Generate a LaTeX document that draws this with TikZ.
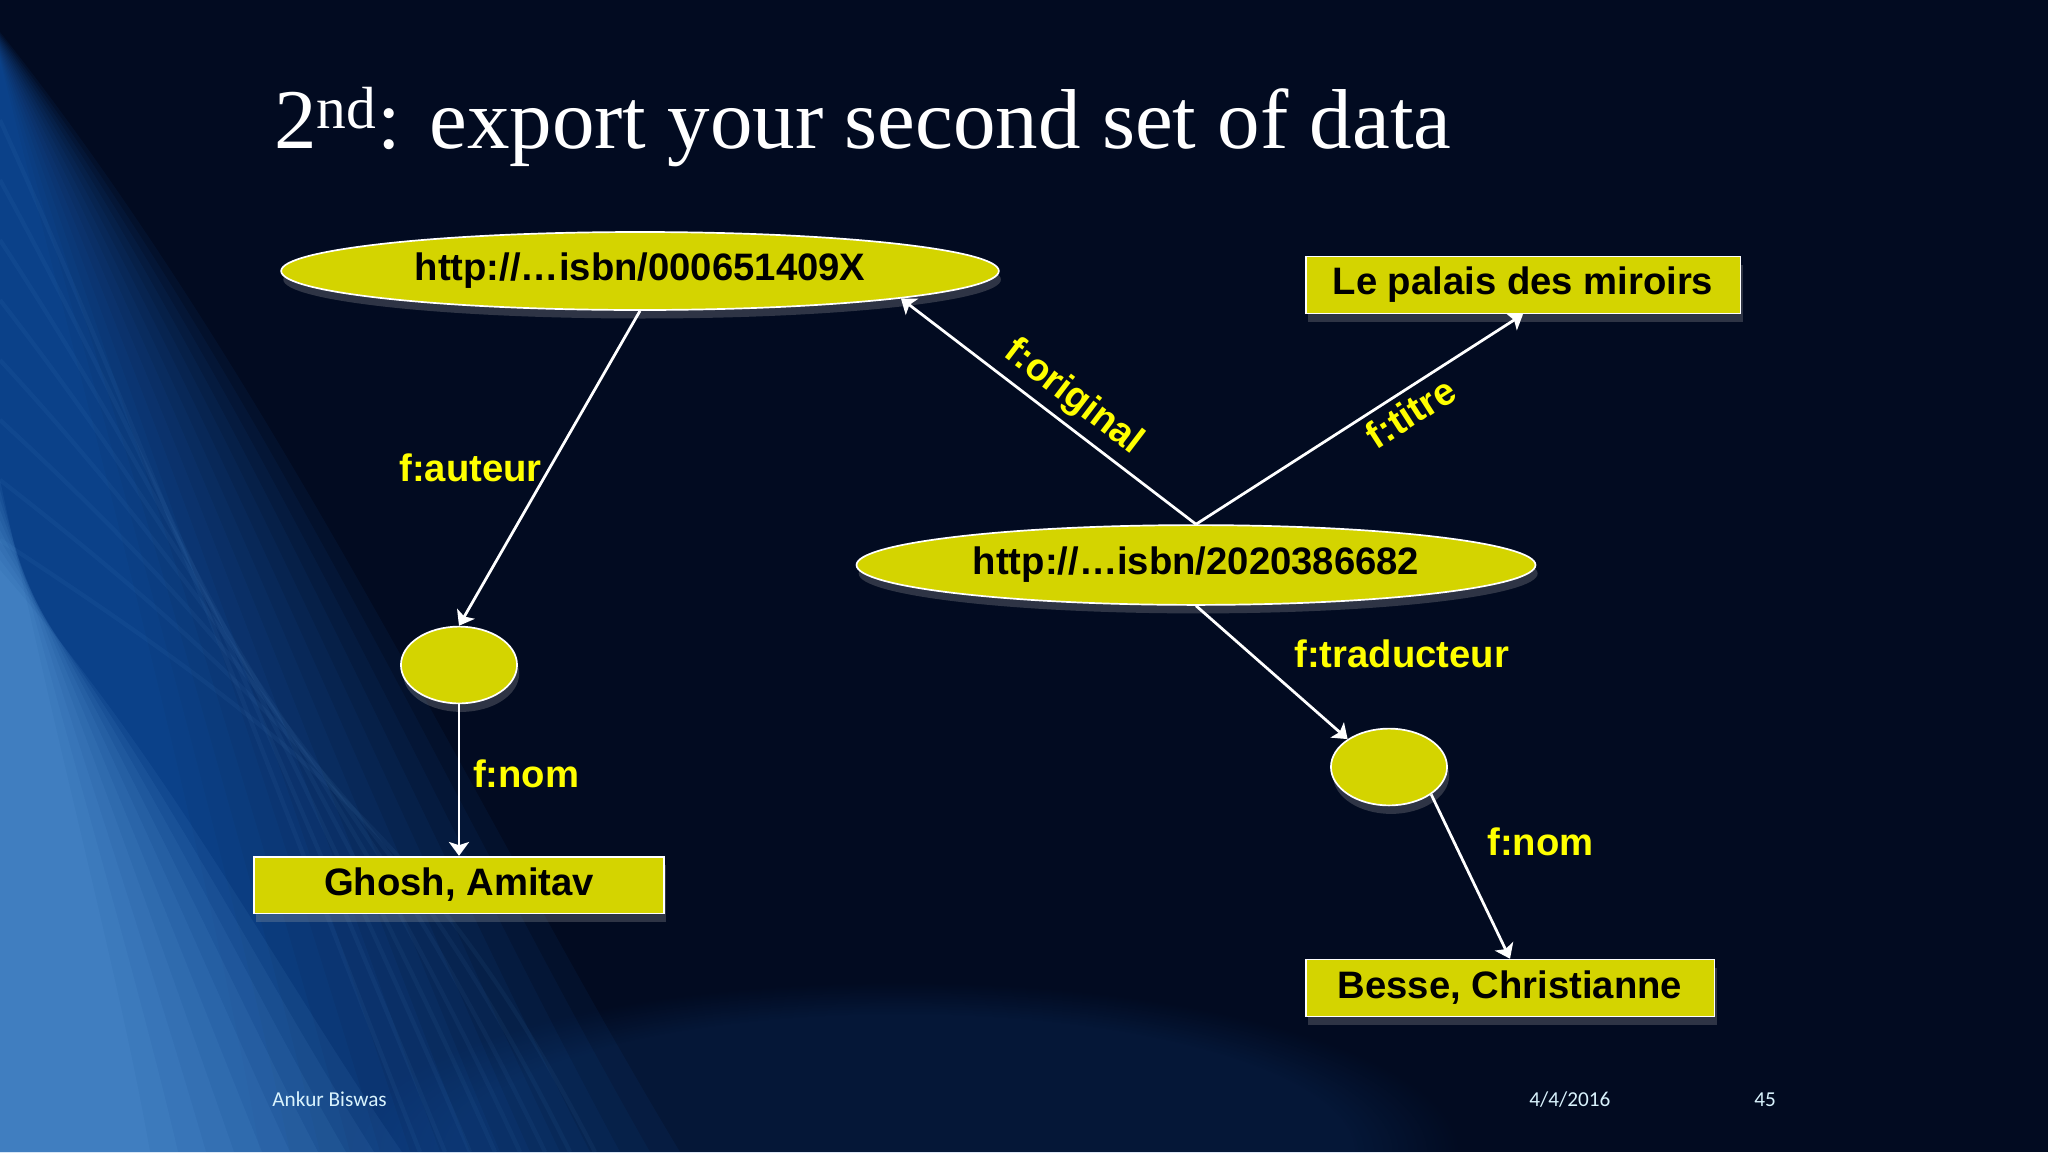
\documentclass[tikz,border=0pt]{standalone}
\usepackage{xcolor}
\usepackage{fontspec}
\setmainfont{Liberation Serif}
\setsansfont{Liberation Sans}
\newfontfamily\footfont{Carlito}
\usepackage{tikz}
\usetikzlibrary{shapes,arrows.meta,positioning,calc,shadows,fadings}

\definecolor{slidebg}{RGB}{2,11,33}
\definecolor{nodeyellow}{RGB}{212,212,0}
\definecolor{lblyellow}{RGB}{255,255,0}
\definecolor{streakblue}{RGB}{25,100,195}
\definecolor{glowblue}{RGB}{120,190,250}

\begin{document}
\begin{tikzpicture}[x=0.016536cm, y=0.016536cm,
  every node/.style={font=\sffamily\bfseries\fontsize{18}{22}\selectfont},
  shade/.style={drop shadow={fill=gray!60, opacity=0.25, shadow xshift=1pt, shadow yshift=-4pt}},
  uri/.style={ellipse, draw=white, line width=0.8pt, fill=nodeyellow, inner sep=0pt, shade},
  blank/.style={ellipse, draw=white, line width=0.8pt, fill=nodeyellow, minimum width=1.92cm, minimum height=1.27cm, shade},
  lit/.style={rectangle, draw=white, line width=0.8pt, fill=nodeyellow, minimum height=0.94cm, inner sep=0pt, shade},
  lbl/.style={text=lblyellow, inner sep=0pt},
  link/.style={draw=white, line width=1.3pt, -{Stealth[length=6.5pt, width=9.5pt, inset=1.5pt]}},
  foot/.style={font=\footfont\fontsize{10}{12}\selectfont, text=white!85!cyan, anchor=base west, inner sep=0pt}]
\useasboundingbox (0,0) rectangle (2048,-1152);
% background
\fill[slidebg] (0,0) rectangle (2048,-1152);
\foreach \k in {0,...,14}
  \fill[streakblue, opacity=0.07] (0,-60+\k*2) .. controls (80+\k*14,-380) and (200+\k*20,-820) .. (260+\k*30,-1152) -- (0,-1152) -- cycle;
\foreach \k in {0,...,9}
  \fill[glowblue, opacity=0.07] (0,-480-\k*10) .. controls (60+\k*12,-760) and (120+\k*18,-980) .. (150+\k*28,-1152) -- (0,-1152) -- cycle;
\foreach \k in {0,...,7}
  \draw[glowblue, opacity=0.05, line width=2pt] (0,-120-\k*60) .. controls (150+\k*20,-450-\k*40) and (300+\k*20,-850) .. (420+\k*25,-1152);
\fill[streakblue, opacity=0.14, path fading=circle with fuzzy edge 20 percent] (900,-1152) ellipse (560 and 170);

% title
\node[font=\rmfamily\fontsize{40}{48}\selectfont, text=white, anchor=base west, inner sep=0pt] (heading) at (274,-148) {2\textsuperscript{nd}: export your second set of data};

% resources
\node[uri, minimum width=11.87cm, minimum height=1.29cm] (orig) at (640,-271) {http://…isbn/000651409X};
\node[uri, minimum width=11.23cm, minimum height=1.32cm] (trad) at (1196,-565) {http://…isbn/2020386682};
\node[blank] (auth) at (459,-665) {};
\node[blank] (transl) at (1389,-767) {};

% literals
\node[lit, minimum width=7.19cm] (titre) at (1523,-285) {Le palais des miroirs};
\node[lit, minimum width=6.78cm, below of=auth, node distance=3.64cm] (ghosh) {Ghosh, Amitav};
\node[lit, minimum width=6.76cm] (besse) at (1510,-988) {Besse, Christianne};

% properties
\draw[link] (orig.south) -- node[lbl, left=3pt] {f:auteur} (auth.north);
\draw[link] (auth.south) -- node[lbl, pos=0.46, right=6pt] {f:nom} (ghosh.north);
\draw[link] (trad.north) -- node[lbl, pos=0.47, sloped, above=3pt] {f:original} (orig.-6);
\draw[link] (trad.north) -- node[lbl, pos=0.62, sloped, below=3pt] {f:titre} (titre.south);
\draw[link] (trad.south) -- node[lbl, pos=0.36, right=20pt] {f:traducteur} (transl.146);
\draw[link] (transl.-33) -- node[lbl, pos=0.29, right=15pt] {f:nom} (besse.north);

% footer
\node[foot] (author) at (272,-1106) {Ankur Biswas};
\node[foot] (date) at (1529,-1106) {4/4/2016};
\node[foot] (page) at (1754,-1106) {45};
\end{tikzpicture}
\end{document}
